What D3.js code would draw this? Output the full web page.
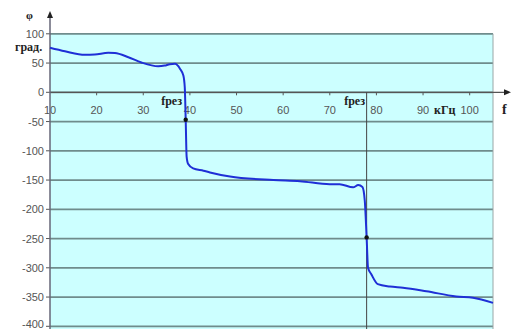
<!DOCTYPE html>
<html>
<head>
<meta charset="utf-8">
<script src="https://cdnjs.cloudflare.com/ajax/libs/d3/7.8.5/d3.min.js"></script>
<style>
  body { margin: 0; background: #fff; }
  svg { display: block; }
  .tick-label { font-family: "Liberation Sans", Arial, sans-serif; font-size: 11px; fill: #555; }
  .serif { font-family: "Liberation Serif", "Times New Roman", serif; font-weight: bold; font-size: 12px; fill: #222; }
</style>
</head>
<body>
<svg id="chart" width="512" height="329"></svg>
<script>
// phase response (f in kHz, phi in degrees)
var freq  = [10, 13.2, 17.5, 19.6, 22.5, 23.9, 26.8, 29.6, 33.2, 34.6, 35.7, 36.8, 37.9, 38.6, 38.9,
             39.1, 39.3, 39.6, 40.7, 42.9, 44.3, 48.6, 57.9, 63.6, 70, 72.1, 75, 76.1, 77, 77.5,
             77.9, 78.2, 78.9, 80.3, 82.9, 85.7, 90.7, 97.1, 100.7, 105];
var phase = [76, 70, 64, 64.5, 67.5, 67, 60, 51, 44.5, 45.7, 48, 48.6, 40, 28.6, 8.6,
             -47, -110, -122, -130, -134, -137, -144, -150, -152, -157, -157, -162.5, -158.6, -162, -185,
             -248, -300, -311, -328, -332, -334, -340, -349, -351, -360];

var xTicks = [10, 20, 30, 40, 50, 60, 70, 80, 90, 100];
var yTicks = [100, 50, 0, -50, -100, -150, -200, -250, -300, -350, -400];

// resonance markers
var resFreq  = [39.1, 77.9];
var resPhase = [-47, -248];
var resLabelX = [182, 365];

(function (d3) {
    'use strict';

    var svg = d3.select('#chart'),
        left = 50, right = 493, top = 33.8, bottom = 326.3,
        x = d3.scaleLinear().domain([10, 105]).range([left, right]),
        y = d3.scaleLinear().domain([-400, 100]).range([bottom, top]),
        y0 = y(0);

    // plot background
    svg.append('rect')
        .attr('x', left).attr('y', top)
        .attr('width', right - left).attr('height', 329 - top)
        .attr('fill', '#ccffff');

    // horizontal grid lines
    svg.append('g')
        .selectAll('line')
        .data(yTicks)
        .enter()
        .append('line')
        .attr('x1', left).attr('x2', right)
        .attr('y1', function (d) { return y(d); })
        .attr('y2', function (d) { return y(d); })
        .attr('stroke', '#6f8c8c')
        .attr('stroke-width', 1.8);

    // right border
    svg.append('line')
        .attr('x1', right).attr('x2', right)
        .attr('y1', top).attr('y2', 329)
        .attr('stroke', '#9aa6a6').attr('stroke-width', 1);

    // y tick marks + labels
    svg.append('g')
        .selectAll('line')
        .data(yTicks)
        .enter()
        .append('line')
        .attr('x1', left - 4).attr('x2', left)
        .attr('y1', function (d) { return y(d); })
        .attr('y2', function (d) { return y(d); })
        .attr('stroke', '#555');

    svg.append('g')
        .selectAll('text')
        .data(yTicks)
        .enter()
        .append('text')
        .attr('class', 'tick-label')
        .attr('x', left - 6)
        .attr('y', function (d) { return Math.min(y(d) + 4, 328); })
        .attr('text-anchor', 'end')
        .text(function (d) { return d; });

    // x axis line with arrow
    svg.append('line')
        .attr('x1', left).attr('x2', 508)
        .attr('y1', y0).attr('y2', y0)
        .attr('stroke', '#555').attr('stroke-width', 1.2);
    svg.append('path')
        .attr('d', 'M511,' + y0 + ' l-7,-3 l0,6 z')
        .attr('fill', '#222');

    svg.append('g')
        .selectAll('line')
        .data(xTicks.slice(1))
        .enter()
        .append('line')
        .attr('x1', function (d) { return x(d); })
        .attr('x2', function (d) { return x(d); })
        .attr('y1', y0).attr('y2', y0 + 3)
        .attr('stroke', '#555');

    svg.append('g')
        .selectAll('text')
        .data(xTicks)
        .enter()
        .append('text')
        .attr('class', 'tick-label')
        .attr('x', function (d) { return x(d); })
        .attr('y', y0 + 22)
        .attr('text-anchor', 'middle')
        .text(function (d) { return d; });

    // y axis line with arrow
    svg.append('line')
        .attr('x1', left).attr('x2', left)
        .attr('y1', 16).attr('y2', 329)
        .attr('stroke', '#667').attr('stroke-width', 1.5);
    svg.append('path')
        .attr('d', 'M' + left + ',11 l-3,7 l6,0 z')
        .attr('fill', '#222');

    // vertical marker at second resonance
    svg.append('line')
        .attr('x1', x(resFreq[1])).attr('x2', x(resFreq[1]))
        .attr('y1', y0).attr('y2', 329)
        .attr('stroke', '#444').attr('stroke-width', 1);

    // curve
    var line = d3.line()
        .x(function (d, i) { return x(freq[i]); })
        .y(function (d) { return y(d); })
        .curve(d3.curveMonotoneX);

    svg.append('path')
        .datum(phase)
        .attr('d', line)
        .attr('fill', 'none')
        .attr('stroke', '#1f2fd6')
        .attr('stroke-width', 2);

    // resonance points
    svg.append('g')
        .selectAll('circle')
        .data(resFreq)
        .enter()
        .append('circle')
        .attr('cx', function (d) { return x(d); })
        .attr('cy', function (d, i) { return y(resPhase[i]); })
        .attr('r', 2.2)
        .attr('fill', '#111');

    // annotations
    svg.selectAll('.res-label')
        .data(resLabelX)
        .enter()
        .append('text')
        .attr('class', 'serif res-label')
        .attr('x', function (d) { return d; })
        .attr('y', y0 + 13)
        .attr('text-anchor', 'end')
        .text('fрез');

    svg.append('text').attr('class', 'serif').attr('x', 434).attr('y', y0 + 22).text('кГц');
    svg.append('text').attr('class', 'serif').attr('x', 502).attr('y', y0 + 22)
        .style('font-size', '14px').text('f');
    svg.append('text').attr('class', 'serif').attr('x', 15).attr('y', 51).text('град.');
    svg.append('text').attr('class', 'serif').attr('x', 26).attr('y', 19)
        .style('font-size', '11px').text('φ');
}(window.d3));
</script>
</body>
</html>
